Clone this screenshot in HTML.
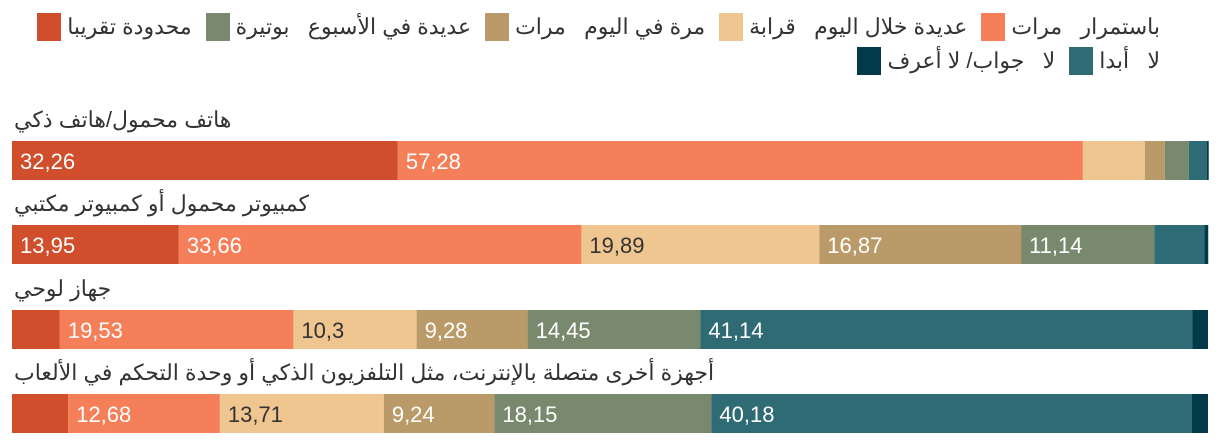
<!DOCTYPE html>
<html><head><meta charset="utf-8">
<style>
body{margin:0;width:1220px;height:446px;background:#fff;font-family:"Liberation Sans","Noto Sans CJK SC",sans-serif;overflow:hidden;position:relative}
#legend{position:absolute;left:8px;top:12px;width:1152px;display:flex;flex-wrap:wrap;direction:rtl;row-gap:4px}
.li{display:flex;align-items:center;font-size:22px;color:#333;height:30px;margin-left:14px;direction:rtl}
.sw{width:24px;height:28px;margin-left:6px}
svg{position:absolute;left:0;top:0}
</style></head><body>
<div id="legend"></div>
<svg id="chart" width="1220" height="446"></svg>
<script>
const seriesNames=["باستمرار","مرات عديدة خلال اليوم","مرة في اليوم تقريبا","مرات عديدة في الأسبوع","بوتيرة محدودة","لا أبدا","لا جواب/ لا أعرف"];
const legendLabels=["باستمرار","مرات عديدة خلال اليوم","قرابة مرة في اليوم","مرات عديدة في الأسبوع","بوتيرة محدودة تقريبا","لا أبدا","لا جواب/ لا أعرف"];
const colors=["#D04E2B","#F47F59","#EFC590","#BA9A68","#78896D","#2F6B74","#033A4A"];
const categories=["هاتف محمول/هاتف ذكي","كمبيوتر محمول أو كمبيوتر مكتبي","جهاز لوحي","أجهزة أخرى متصلة بالإنترنت، مثل التلفزيون الذكي أو وحدة التحكم في الألعاب"];
const row1=[32.26,57.28,5.18,1.67,2.0,1.5,0.17];
const row2=[13.95,33.66,19.89,16.87,11.14,4.18,0.33];
const row3=[4.0,19.53,10.3,9.28,14.45,41.14,1.3];
const row4=[4.7,12.68,13.71,9.24,18.15,40.18,1.34];
const rows=[row1,row2,row3,row4];
const legendOrder=[0,1,2,3,4,5,6];
// legend
const lg=document.getElementById('legend');
const legendText=["باستمرار","مرات عديدة خلال اليوم","قرابة مرة في اليوم","مرات عديدة في الأسبوع","بوتيرة محدودة تقريبا","لا أبدا","لا جواب/ لا أعرف"];
legendText.forEach((t,i)=>{
  const d=document.createElement('div');d.className='li';
  
  
  const s=document.createElement('span');s.className='sw';s.style.background=colors[(7-i)%7===0?0:0];
  d.appendChild(document.createElement('span'));
  lg.appendChild(d);
});
// Rebuild legend properly to match layout: text then swatch to its left (RTL)
lg.innerHTML='';
const items=[["باستمرار   مرات",1],["عديدة خلال اليوم   قرابة",2],["مرة في اليوم   مرات",3],["عديدة في الأسبوع   بوتيرة",4],["محدودة تقريبا",0],["لا   أبدا",5],["لا   جواب/ لا أعرف",6]];
items.forEach(([t,c],i)=>{
  const d=document.createElement('div');d.className='li';
  
  
  const tx=document.createElement('span');tx.textContent=t;tx.style.whiteSpace='pre';
  const s=document.createElement('span');s.className='sw';s.style.background=colors[c];s.style.marginLeft='0';s.style.marginRight='6px';
  
  
  d.appendChild(tx);d.appendChild(s);
  lg.appendChild(d);
});
// chart
const svg=document.getElementById('chart');const NS='http://www.w3.org/2000/svg';
const x0=12,x1=1208;const xs=v=>v/100*(x1-x0);
const barTop=[141,225,310,394],barH=39;
const fmt=v=>String(v).replace('.',',');
rows.forEach((r,ri)=>{
  const lab=document.createElementNS(NS,'text');
  lab.setAttribute('x',x0+2);lab.setAttribute('y',barTop[ri]-14);
  lab.setAttribute('font-size','22');lab.setAttribute('fill','#333');lab.setAttribute('direction','rtl');lab.setAttribute('text-anchor','end');
  
  
  lab.textContent=categories[ri];svg.appendChild(lab);
  let cum=0;
  r.forEach((v,si)=>{
    const rc=document.createElementNS(NS,'rect');
    rc.setAttribute('x',x0+xs(cum));rc.setAttribute('y',barTop[ri]);
    rc.setAttribute('width',xs(v));rc.setAttribute('height',barH);rc.setAttribute('fill',colors[si]);
    
    
    svg.appendChild(rc);
    if(v>8){
      const t=document.createElementNS(NS,'text');
      t.setAttribute('x',x0+xs(cum)+8);t.setAttribute('y',barTop[ri]+28);
      t.setAttribute('font-size','22');t.setAttribute('fill',si===2?'#333':'#fff');
      
      
      t.textContent=fmt(v);svg.appendChild(t);
    }
    cum+=v;
  });
});
</script>
</body></html>
